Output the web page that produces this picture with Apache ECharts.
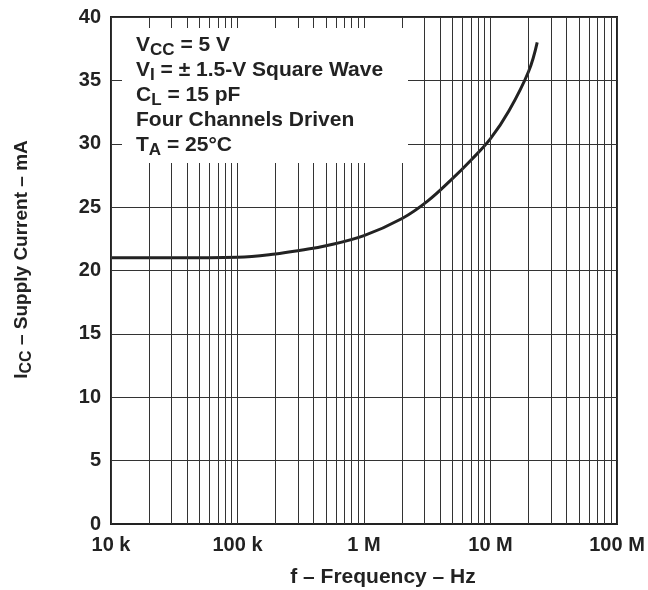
<!DOCTYPE html>
<html>
<head>
<meta charset="utf-8">
<script src="https://cdn.jsdelivr.net/npm/echarts@6/dist/echarts.min.js"></script>
<style>
html,body{margin:0;padding:0;background:#fff;}
#c{width:648px;height:590px;}
</style>
</head>
<body>
<div id="c"></div>
<script>
// Data
var freqHz = [1e4, 3.16e4, 1e5, 2e5, 3.16e5, 5e5, 1e6, 2e6, 3.16e6, 5e6, 7e6, 1e7, 1.4e7, 2e7, 2.34e7];
var supplyMA = [21.0, 21.0, 21.05, 21.3, 21.6, 21.95, 22.75, 24.1, 25.45, 27.25, 28.7, 30.4, 32.6, 35.7, 38.0];
var xTickLabels = ['10 k', '100 k', '1 M', '10 M', '100 M'];
var decades = [1e4, 1e5, 1e6, 1e7];
var multipliers = [1, 2, 3, 4, 5, 6, 7, 8, 9];
var noteLines = [
  ['V', 'CC', ' = 5 V'],
  ['V', 'I', ' = \u00B1 1.5-V Square Wave'],
  ['C', 'L', ' = 15 pF'],
  ['Four Channels Driven', '', ''],
  ['T', 'A', ' = 25\u00B0C']
];

var gridLines = [];
decades.forEach(function (d) {
  multipliers.forEach(function (m) { gridLines.push({ xAxis: d * m }); });
});
gridLines.push({ xAxis: 1e8 });

var FONT = 'Liberation Sans, Arial, sans-serif';
var FS = 20;
var gL = 111, gT = 17, gW = 506, gH = 507;

var richMain = { fontFamily: FONT, fontWeight: 'bold', fontSize: 19, color: '#222' };
var richSub = { fontFamily: FONT, fontWeight: 'bold', fontSize: 16, color: '#222', padding: [10, 0, 0, 0] };

var noteText = noteLines.map(function (l) {
  var s = '{m|' + l[0] + '}';
  if (l[1]) s += '{s|' + l[1] + '}';
  if (l[2]) s += '{m|' + l[2] + '}';
  return s;
}).join('\n');

var chart = echarts.init(document.getElementById('c'), null, { renderer: 'canvas' });
chart.setOption({
  animation: false,
  backgroundColor: '#fff',
  grid: { left: gL, top: gT, width: gW, height: gH, outerBoundsMode: 'none', containLabel: false,
    show: true, borderColor: '#222', borderWidth: 2, backgroundColor: 'transparent' },
  xAxis: {
    type: 'log', logBase: 10, min: 1e4, max: 1e8,
    axisLine: { show: true, lineStyle: { color: '#222', width: 2 } },
    axisTick: { show: false },
    splitLine: { show: false },
    minorTick: { show: false },
    axisLabel: {
      margin: 11, fontFamily: FONT, fontWeight: 'bold', fontSize: FS, color: '#222',
      formatter: function (v) { return xTickLabels[Math.round(Math.log10(v)) - 4]; }
    },
    name: 'f \u2013 Frequency \u2013 Hz', nameLocation: 'middle', nameGap: 43,
    nameTextStyle: { fontFamily: FONT, fontWeight: 'bold', fontSize: 21, color: '#222', padding: [0, 0, 0, 38] }
  },
  yAxis: {
    type: 'value', min: 0, max: 40, interval: 5,
    axisLine: { show: true, lineStyle: { color: '#222', width: 2 } },
    axisTick: { show: false },
    splitLine: { show: true, lineStyle: { color: '#333', width: 1 } },
    axisLabel: { margin: 10, fontFamily: FONT, fontWeight: 'bold', fontSize: FS, color: '#222' },
    name: '{m|I}{s|CC}{m| \u2013 Supply Current \u2013 mA}',
    nameLocation: 'middle', nameGap: 76, nameRotate: 90,
    nameTextStyle: { padding: [0, 0, 0, 22], rich: { m: richMain, s: richSub } }
  },
  graphic: [
    { type: 'rect', z: 50, shape: { x: gL + 11, y: gT + 11, width: 286, height: 135 }, style: { fill: '#fff' } },
    { type: 'text', z: 51, left: gL + 25, top: gT + 15,
      style: { text: noteText, lineHeight: 25,
        rich: {
          m: { fontFamily: FONT, fontWeight: 'bold', fontSize: 21, fill: '#222', lineHeight: 25 },
          s: { fontFamily: FONT, fontWeight: 'bold', fontSize: 17, fill: '#222', lineHeight: 25, padding: [10, 0, 0, 0] }
        } } }
  ],
  series: [{
    type: 'line', data: freqHz.map(function (f, i) { return [f, supplyMA[i]]; }),
    smooth: 0.4, showSymbol: false, symbol: 'none',
    lineStyle: { color: '#222', width: 3 },
    markLine: {
      silent: true, symbol: 'none', label: { show: false },
      lineStyle: { color: '#333', width: 1, type: 'solid' },
      data: gridLines
    }
  }]
});
</script>
</body>
</html>
